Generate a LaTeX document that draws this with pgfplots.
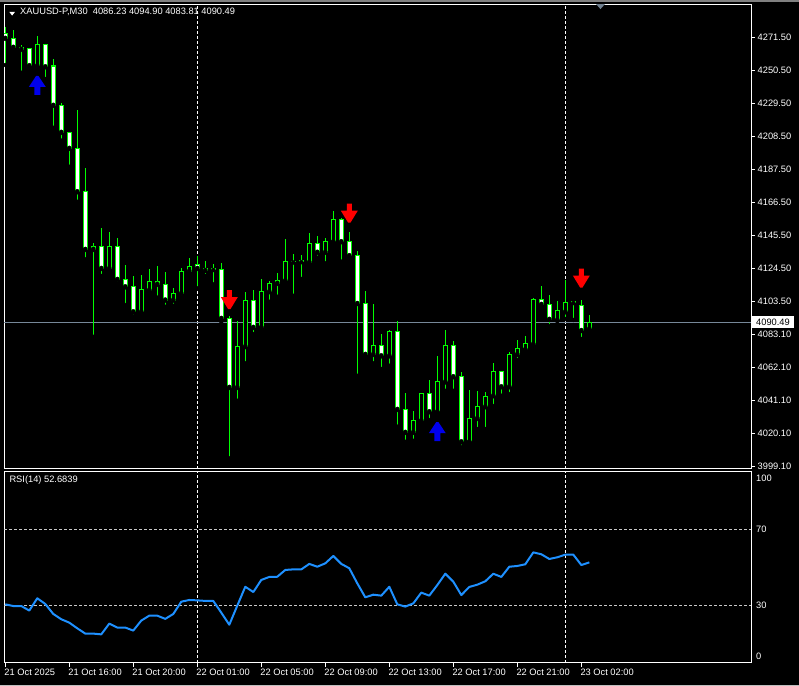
\documentclass[border=0pt]{standalone}
\usepackage{pgfplots}
\pgfplotsset{compat=1.18}
\usepackage{pgfplotstable}
\usepackage{fontspec}
\setmainfont{Liberation Sans}
\definecolor{cg}{RGB}{0,255,0}
\definecolor{rsiblue}{RGB}{30,144,255}
\definecolor{pline}{RGB}{119,136,153}
\definecolor{lvl}{RGB}{200,200,200}
\definecolor{arrowblue}{RGB}{0,0,235}
\definecolor{arrowred}{RGB}{255,0,0}
\definecolor{slate}{RGB}{112,128,144}
\newcommand{\lab}{\fontsize{9.3bp}{10bp}\selectfont}

\pgfdeclareplotmark{uparrow}{%
  \pgfpathmoveto{\pgfqpoint{-1.2bp}{9.5bp}}%
  \pgfpathlineto{\pgfqpoint{1.2bp}{9.5bp}}%
  \pgfpathlineto{\pgfqpoint{8.5bp}{-1.5bp}}%
  \pgfpathlineto{\pgfqpoint{3bp}{-1.5bp}}%
  \pgfpathlineto{\pgfqpoint{3bp}{-9.5bp}}%
  \pgfpathlineto{\pgfqpoint{-3bp}{-9.5bp}}%
  \pgfpathlineto{\pgfqpoint{-3bp}{-1.5bp}}%
  \pgfpathlineto{\pgfqpoint{-8.5bp}{-1.5bp}}%
  \pgfpathclose
  \pgfusepathqfill}
\pgfdeclareplotmark{downarrow}{%
  \pgfpathmoveto{\pgfqpoint{-1.2bp}{-9.5bp}}%
  \pgfpathlineto{\pgfqpoint{1.2bp}{-9.5bp}}%
  \pgfpathlineto{\pgfqpoint{8.5bp}{2.5bp}}%
  \pgfpathlineto{\pgfqpoint{2.5bp}{2.5bp}}%
  \pgfpathlineto{\pgfqpoint{2.5bp}{9.5bp}}%
  \pgfpathlineto{\pgfqpoint{-2.5bp}{9.5bp}}%
  \pgfpathlineto{\pgfqpoint{-2.5bp}{2.5bp}}%
  \pgfpathlineto{\pgfqpoint{-8.5bp}{2.5bp}}%
  \pgfpathclose
  \pgfusepathqfill}

\pgfplotstableread{
i O H L C
0 4274.3 4278.1 4254.1 4271.1
1 4271.1 4276.4 4262.6 4265.4
2 4265.4 4266.9 4249.2 4264.1
3 4264.8 4264.8 4253.2 4253.7
4 4253.7 4272.6 4251.6 4266.9
5 4266.9 4267.5 4245.2 4253.0
6 4253.5 4257.8 4214.2 4228.5
7 4228.5 4229.8 4206.0 4211.3
8 4211.3 4211.3 4189.4 4201.1
9 4201.1 4225.5 4167.1 4173.5
10 4173.9 4188.4 4130.5 4136.8
11 4136.8 4141.0 4081.2 4138.9
12 4138.5 4150.2 4119.9 4124.7
13 4124.7 4147.7 4122.6 4138.5
14 4138.5 4143.8 4114.8 4117.7
15 4117.7 4126.9 4101.4 4113.0
16 4113.5 4119.9 4094.0 4097.1
17 4097.1 4120.5 4096.2 4111.4
18 4110.9 4124.1 4110.5 4116.7
19 4116.7 4126.3 4106.1 4114.6
20 4114.6 4122.6 4100.3 4104.6
21 4104.6 4112.4 4100.9 4108.8
22 4108.8 4125.1 4106.1 4123.0
23 4123.0 4131.1 4120.5 4126.2
24 4126.9 4132.6 4112.0 4124.7
25 4124.7 4129.2 4119.9 4123.4
26 4124.0 4127.5 4114.6 4124.5
27 4124.2 4128.1 4090.8 4092.9
28 4092.9 4094.4 4003.9 4049.0
29 4049.0 4091.2 4040.5 4075.3
30 4075.0 4109.7 4064.3 4104.6
31 4104.6 4111.0 4082.9 4087.2
32 4087.2 4118.0 4087.2 4110.3
33 4109.9 4116.7 4103.5 4115.2
34 4115.2 4121.9 4106.7 4117.3
35 4116.9 4143.2 4116.2 4128.8
36 4128.8 4133.8 4107.3 4129.3
37 4129.0 4133.2 4118.0 4129.5
38 4128.6 4147.5 4126.2 4140.7
39 4140.7 4145.3 4131.5 4135.0
40 4135.0 4143.8 4127.9 4141.7
41 4141.7 4161.2 4141.7 4156.0
42 4156.0 4157.0 4129.0 4141.7
43 4142.1 4148.0 4130.7 4132.8
44 4133.2 4135.8 4056.4 4102.4
45 4102.4 4110.3 4069.1 4070.0
46 4070.0 4102.0 4064.3 4075.9
47 4075.9 4083.0 4060.7 4069.1
48 4069.1 4085.5 4062.8 4084.8
49 4084.8 4091.2 4024.0 4035.0
50 4035.0 4045.6 4014.4 4020.4
51 4020.4 4034.0 4015.0 4028.2
52 4027.9 4045.2 4025.7 4045.2
53 4045.2 4053.7 4028.2 4033.5
54 4033.5 4068.9 4033.5 4053.0
55 4052.5 4085.5 4046.8 4075.9
56 4075.9 4078.4 4046.8 4055.8
57 4055.8 4058.6 4010.9 4014.4
58 4014.4 4047.3 4014.4 4029.3
59 4029.3 4046.7 4022.5 4036.7
60 4036.7 4045.8 4022.5 4043.3
61 4043.7 4064.3 4037.1 4059.3
62 4059.3 4059.3 4043.7 4049.4
63 4049.4 4071.3 4044.7 4070.2
64 4070.0 4079.1 4066.4 4073.8
65 4073.1 4081.6 4073.1 4076.9
66 4076.5 4105.7 4075.9 4105.0
67 4105.0 4113.5 4099.7 4101.8
68 4101.8 4107.8 4088.0 4092.3
69 4091.9 4103.9 4091.2 4098.0
70 4097.1 4117.3 4092.5 4103.1
71 4103.0 4103.9 4091.9 4103.5
72 4101.1 4104.8 4079.8 4085.2
73 4086.23 4094.90 4083.81 4090.49
}\ohlc

\pgfplotstableread{
i R
0 30.5
1 29.6
2 29.6
3 27.2
4 33.7
5 30.7
6 25.4
7 22.6
8 20.8
9 17.8
10 15.0
11 15.0
12 14.6
13 20.3
14 18.2
15 18.2
16 16.6
17 21.9
18 24.5
19 24.5
20 22.8
21 25.4
22 31.9
23 32.8
24 32.6
25 32.3
26 32.3
27 26.1
28 19.7
29 29.8
30 39.8
31 37.0
32 43.4
33 45.0
34 45.1
35 48.7
36 49.0
37 49.0
38 51.9
39 50.4
40 52.2
41 56.1
42 51.9
43 49.6
44 41.6
45 34.2
46 35.6
47 35.1
48 39.8
49 30.5
50 29.3
51 31.0
52 36.7
53 35.1
54 40.7
55 46.7
56 42.5
57 35.4
58 39.7
59 40.9
60 42.7
61 46.7
62 45.0
63 50.4
64 50.8
65 51.7
66 58.0
67 57.0
68 54.5
69 55.4
70 56.8
71 56.8
72 51.3
73 52.7
}\rsi

\pgfplotstableread{
i y
4 4241.1
54 4020.8
}\buyarrows
\pgfplotstableread{
i y
28 4104.9
43 4159.9
72 4118.6
}\sellarrows

\begin{document}
\begin{tikzpicture}
\fill[black] (0,0) rectangle (799bp,-686bp);
\fill[gray] (0,0) rectangle (799bp,-1.5bp);
\fill[lightgray] (0,-684.5bp) rectangle (799bp,-686bp);

% ---------------- main price panel ----------------
\begin{axis}[
  at={(4bp,-4bp)}, anchor=north west, scale only axis,
  width=747bp, height=464.5bp,
  xmin=-0.16, xmax=93.21, ymin=3997.4, ymax=4292.95,
  axis background/.style={fill=black},
  axis line style={draw=white, line width=1bp},
  xtick=\empty,
  ytick={4271.5,4250.5,4229.5,4208.5,4187.5,4166.5,4145.5,4124.5,4103.5,4082.5,4061.5,4040.5,4019.5,3998.5},
  yticklabels={4271.50,4250.50,4229.50,4208.50,4187.50,4166.50,4145.50,4124.50,4103.50,4083.10,4062.10,4041.10,4020.10,3999.10},
  ytick pos=right, yticklabel pos=right,
  tick align=outside, major tick length=4bp,
  tick style={draw=white, line width=1bp},
  yticklabel style={text=white, font=\lab, inner sep=0pt, xshift=2.5bp},
]
% day separators
\addplot[white, line width=1bp, dash pattern=on 3bp off 2bp] coordinates {(24,3997.4) (24,4292.95)};
\addplot[white, line width=1bp, dash pattern=on 3bp off 2bp] coordinates {(70,3997.4) (70,4292.95)};
% current price line
\addplot[pline, line width=1bp] coordinates {(-0.16,4090.49) (93.21,4090.49)};
% wicks
\addplot[only marks, mark=none, error bars/.cd, y dir=plus, y explicit, error mark=none,
  error bar style={draw=cg, line width=1bp}]
  table[x=i, y=L, y error expr={\thisrow{H}-\thisrow{L}}] {\ohlc};
% body outlines
\addplot[only marks, mark=none, error bars/.cd, y dir=plus, y explicit, error mark=none,
  error bar style={draw=cg, line width=5.2bp}]
  table[x=i, y expr={min(\thisrow{O},\thisrow{C})-0.32}, y error expr={abs(\thisrow{C}-\thisrow{O})+0.64}] {\ohlc};
% bear bodies (white)
\addplot[only marks, mark=none, restrict expr to domain={\thisrow{O}-\thisrow{C}}{0.8:1000},
  error bars/.cd, y dir=plus, y explicit, error mark=none,
  error bar style={draw=white, line width=3bp}]
  table[x=i, y expr={\thisrow{C}+0.32}, y error expr={\thisrow{O}-\thisrow{C}-0.64}] {\ohlc};
% bull bodies (black)
\addplot[only marks, mark=none, restrict expr to domain={\thisrow{C}-\thisrow{O}}{0.8:1000},
  error bars/.cd, y dir=plus, y explicit, error mark=none,
  error bar style={draw=black, line width=3bp}]
  table[x=i, y expr={\thisrow{O}+0.32}, y error expr={\thisrow{C}-\thisrow{O}-0.64}] {\ohlc};
% signal arrows
\addplot[only marks, mark=uparrow, mark options={fill=arrowblue, draw=none}] table[x=i,y=y] {\buyarrows};
\addplot[only marks, mark=downarrow, mark options={fill=arrowred, draw=none}] table[x=i,y=y] {\sellarrows};
% title
\fill[white] (axis description cs:0.0071,0.9830) -- (axis description cs:0.0147,0.9830) -- (axis description cs:0.0109,0.9750) -- cycle;
\node[anchor=west, text=white, font=\lab, inner sep=0pt] at (axis description cs:0.0214,0.983)
  {XAUUSD-P,M30\ \ 4086.23 4094.90 4083.81 4090.49};
\fill[slate] (axis description cs:0.7925,1) -- (axis description cs:0.8046,1) -- (axis description cs:0.7985,0.9890) -- cycle;
\coordinate (plabel) at (axis cs:93.21,4090.49);
\end{axis}
\node[anchor=west, fill=white, text=black, font=\lab, inner xsep=4bp, inner ysep=0pt, minimum height=12bp, xshift=1bp] at (plabel) {4090.49};

% ---------------- RSI panel ----------------
\begin{axis}[
  at={(4bp,-471.5bp)}, anchor=north west, scale only axis,
  width=747bp, height=191.2bp,
  xmin=-0.16, xmax=93.21, ymin=-0.4, ymax=100.8,
  axis background/.style={fill=black},
  axis line style={draw=white, line width=1bp},
  xtick={0,8,16,24,32,40,48,56,64,72},
  xticklabels={21 Oct 2025,21 Oct 16:00,21 Oct 20:00,22 Oct 01:00,22 Oct 05:00,22 Oct 09:00,22 Oct 13:00,22 Oct 17:00,22 Oct 21:00,23 Oct 02:00},
  xtick pos=left,
  ytick={2.8,30,70,97.4}, yticklabels={0,30,70,100},
  ytick pos=right, yticklabel pos=right,
  tick align=outside, major tick length=4bp,
  tick style={draw=white, line width=1bp},
  major y tick style={draw=none},
  xticklabel style={text=white, font=\lab, anchor=north west, inner sep=0pt, xshift=-1bp, yshift=-2.5bp},
  yticklabel style={text=white, font=\lab, inner sep=0pt, xshift=1bp},
]
\addplot[lvl, line width=1bp, dash pattern=on 3bp off 2bp] coordinates {(-0.16,70) (93.21,70)};
\addplot[lvl, line width=1bp, dash pattern=on 3bp off 2bp] coordinates {(-0.16,30) (93.21,30)};
\addplot[white, line width=1bp, dash pattern=on 3bp off 2bp] coordinates {(24,-0.4) (24,100.8)};
\addplot[white, line width=1bp, dash pattern=on 3bp off 2bp] coordinates {(70,-0.4) (70,100.8)};
\addplot[rsiblue, line width=2bp, line join=round] table[x=i, y=R] {\rsi};
\node[anchor=west, text=white, font=\lab, inner sep=0pt] at (axis description cs:0.0071,0.953) {RSI(14) 52.6839};
\end{axis}
\end{tikzpicture}
\end{document}
